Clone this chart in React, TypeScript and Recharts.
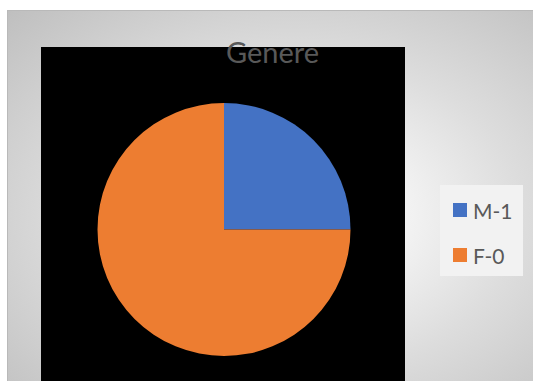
import { PieChart, Pie, Cell, Legend } from "recharts"

const categories = ["M-1", "F-0"]
const values = [1, 3]
const colors = ["#4472C4", "#ED7D31"]
const title = "Genere"

const data = categories.map((name, i) => ({ name, value: values[i] }))

const font = "Lato, 'Open Sans', sans-serif"

function LegendBox({ payload }: any) {
  // keep the series order of the data, not the order the legend hands over
  const items = [...(payload || [])].sort(
    (a: any, b: any) => categories.indexOf(a.value) - categories.indexOf(b.value)
  )
  return (
    <div
      style={{
        width: 83,
        height: 91,
        background: "#f2f2f2",
        boxSizing: "border-box",
        paddingTop: 14,
        paddingLeft: 13,
        fontFamily: font,
      }}
    >
      {items.map((p: any, i: number) => (
        <div
          key={i}
          style={{
            display: "flex",
            alignItems: "center",
            height: 22,
            marginBottom: 23,
            fontSize: 21,
            color: "#595959",
          }}
        >
          <span
            style={{
              display: "inline-block",
              width: 14,
              height: 14,
              background: p.color,
              marginRight: 6,
            }}
          />
          {p.value}
        </div>
      ))}
    </div>
  )
}

export default function App() {
  return (
    <div
      style={{
        position: "absolute",
        left: 0,
        top: 0,
        width: 533,
        height: 381,
        background: "#fff",
        overflow: "hidden",
      }}
    >
      <div
        style={{
          position: "absolute",
          left: 7,
          top: 10,
          width: 526,
          height: 371,
          boxSizing: "border-box",
          borderTop: "1px solid #b9b9b9",
          borderLeft: "1px solid #b9b9b9",
          background:
            "radial-gradient(ellipse farthest-corner at 55% 55%, #ffffff 0%, #f4f4f4 25%, #dddddd 55%, #bfbfbf 100%)",
        }}
      />
      <div
        style={{
          position: "absolute",
          left: 41,
          top: 47,
          width: 364,
          height: 334,
          background: "#000",
        }}
      />
      <div style={{ position: "absolute", left: 7, top: 10 }}>
        <PieChart width={526} height={371} margin={{ top: 0, right: 0, bottom: 0, left: 0 }}>
          <Pie
            data={data}
            dataKey="value"
            nameKey="name"
            cx={217}
            cy={219.5}
            outerRadius={126.5}
            startAngle={90}
            endAngle={-270}
            stroke="none"
            isAnimationActive={false}
          >
            {data.map((d, i) => (
              <Cell key={d.name} fill={colors[i]} />
            ))}
          </Pie>
          <Legend
            layout="vertical"
            align="right"
            verticalAlign="middle"
            content={<LegendBox />}
            wrapperStyle={{ left: 433, top: 175, width: 83, height: 91, right: "auto", bottom: "auto" }}
          />
        </PieChart>
      </div>
      <svg
        width={533}
        height={381}
        style={{ position: "absolute", left: 0, top: 0, pointerEvents: "none" }}
      >
        <text x={272.5} y={63} textAnchor="middle" fontFamily={font} fontSize={29} fill="#595959">
          {title}
        </text>
      </svg>
    </div>
  )
}
